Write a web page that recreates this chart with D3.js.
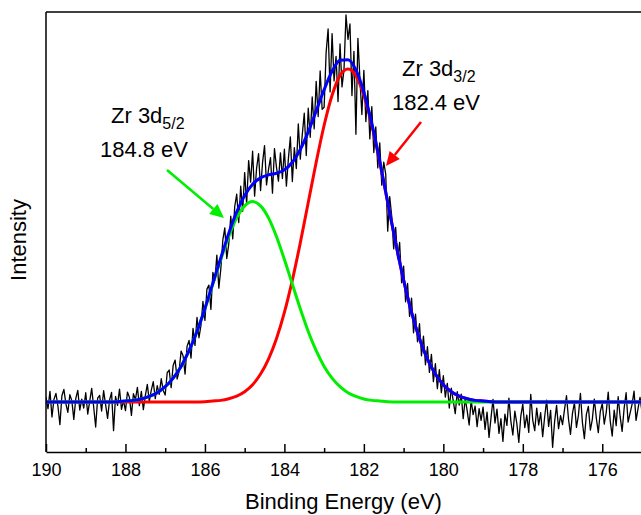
<!DOCTYPE html>
<html>
<head>
<meta charset="utf-8">
<script src="https://cdn.jsdelivr.net/npm/d3@7"></script>
<style>
  html, body { margin: 0; padding: 0; background: #fff; }
  svg { display: block; font-family: "Liberation Sans", Arial, sans-serif; }
</style>
</head>
<body>
<svg id="chart" width="641" height="515"></svg>
<script>
// ---------------- DATA ----------------
// Binding energy axis
const xStart = 190, xEnd = 175;
const majorTicks = [190, 188, 186, 184, 182, 180, 178, 176];
const minorTicks = [189, 187, 185, 183, 181, 179, 177, 175];

// Raw spectrum (intensity, a.u., baseline-subtracted), 190.00 -> 175.00 eV in 0.05 eV steps
const rawStep = 0.05;
const rawIntensity = [
  // 190.00 - 189.05
  1.5, -2.0, 3.2, -4.5, 0.8, 2.6, -1.2, -6.8, 1.9, 3.8, -0.5, -3.1, 2.2, 0.4, -5.2, 1.1, 3.5, -2.4, 0.9, -1.8,
  // 189.00 - 188.05
  2.8, -3.6, 0.3, 4.1, -1.5, -7.5, 1.2, 2.0, -2.7, 3.4, -0.8, -4.9, 0.6, 2.9, -8.6, 1.7, -1.0, 3.9, -2.2, 0.5,
  // 188.00 - 187.05
  -2.6, 3.0, 1.4, -4.0, 2.5, 0.7, 4.4, -1.1, 3.2, -2.3, 1.9, 5.3, 0.2, 3.6, 6.1, 1.0, 4.9, 2.3, 7.0, 3.5,
  // 187.00 - 186.05
  2.1, 8.8, 9.6, 4.3, 11.0, 12.6, 6.9, 9.2, 15.3, 13.9, 8.4, 16.7, 18.5, 13.2, 22.1, 17.0, 25.4, 19.3, 23.0, 30.2,
  // 186.00 - 185.05
  24.5, 33.9, 35.1, 27.8, 38.9, 36.5, 44.1, 34.2, 40.0, 48.6, 52.3, 43.1, 47.5, 55.8, 49.0, 58.7, 62.4, 53.9, 64.8, 57.3,
  // 185.00 - 184.05
  68.9, 59.4, 72.5, 66.0, 75.3, 61.8, 70.2, 74.6, 63.5, 71.9, 77.0, 65.2, 69.8, 73.4, 62.7, 76.1, 70.5, 66.3, 74.8, 67.1,
  // 184.00 - 183.05
  75.9, 64.8, 73.0, 79.6, 66.2, 76.4, 70.1, 83.5, 72.9, 80.3, 86.7, 74.0, 88.2, 79.5, 91.6, 82.0, 96.3, 85.7, 99.4, 87.9,
  // 183.00 - 182.05
  88.5, 104.9, 112.0, 93.1, 110.6, 96.4, 103.8, 90.2, 107.5, 94.6, 99.8, 116.2, 108.9, 113.5, 92.0, 105.3, 80.4, 109.2, 97.1, 86.3,
  // 182.00 - 181.05
  99.6, 84.2, 93.5, 79.0, 88.7, 74.9, 82.6, 70.3, 77.8, 65.1, 72.0, 68.4, 51.3, 61.7, 55.9, 46.0, 52.4, 43.1, 47.9, 35.8,
  // 181.00 - 180.05
  40.8, 30.1, 35.6, 25.7, 31.2, 20.8, 26.4, 18.1, 23.5, 13.9, 19.8, 11.2, 16.6, 8.9, 14.3, 6.1, 11.5, 4.0, 9.7, 2.8,
  // 180.00 - 179.05
  7.9, 1.5, 5.6, -1.8, 4.2, 0.3, -3.5, 3.1, -0.9, 2.4, -5.0, 1.0, -2.6, -6.9, 0.5, -3.8, -1.2, -7.4, -2.0, -5.5,
  // 179.00 - 178.05
  -1.5, -8.2, -3.0, -10.6, -4.7, 0.8, -6.3, -2.1, -9.4, -5.0, -11.8, -3.6, -7.0, 1.2, -5.8, -9.9, -2.7, -6.5, -12.1, -4.2,
  // 178.00 - 177.05
  -0.6, -7.7, -3.9, -9.1, 2.3, -5.4, -8.6, -1.8, -6.9, -3.2, -10.4, -4.5, 0.6, -7.3, -2.5, -13.6, -5.9, -1.0, -8.0, -4.1,
  // 177.00 - 176.05
  -6.8, -2.2, 1.9, -5.1, -9.7, -3.4, -0.2, -7.6, -4.0, 2.6, -6.1, -11.0, -3.7, -1.3, -8.4, -5.2, 0.9, -4.8, -9.2, -2.9,
  // 176.00 - 175.05
  -0.4, -6.6, -3.1, 3.0, -5.7, -10.2, -2.4, -7.1, 1.6, -4.4, -8.8, -1.9, 2.8, -6.0, -3.3, -0.7, 3.3, -5.5, -2.0, 1.4,
  // 175.00
  -3.0
];

// Fitted components, 190.0 -> 175.0 eV in 0.2 eV steps
const fitStep = 0.2;
const fitZr52 = [ // Zr 3d5/2, 184.8 eV (green)
  0, 0, 0, 0, 0, 0, 0, 0, 0, 0.1,
  0.3, 0.5, 0.9, 1.7, 2.8, 4.6, 7.2, 10.7, 15.4, 21.2,
  28.0, 35.4, 42.8, 49.7, 55.3, 58.9, 60.2, 58.9, 55.3, 49.7,
  42.8, 35.4, 28.0, 21.2, 15.4, 10.7, 7.2, 4.6, 2.8, 1.7,
  0.9, 0.5, 0.3, 0.1, 0, 0, 0, 0, 0, 0,
  0, 0, 0, 0, 0, 0, 0, 0, 0, 0,
  0, 0, 0, 0, 0, 0, 0, 0, 0, 0,
  0, 0, 0, 0, 0, 0
];
const fitZr32 = [ // Zr 3d3/2, 182.4 eV (red)
  0, 0, 0, 0, 0, 0, 0, 0, 0, 0,
  0, 0, 0, 0, 0, 0, 0, 0, 0, 0,
  0.1, 0.3, 0.5, 1.0, 1.8, 3.1, 5.2, 8.4, 12.9, 19.0,
  26.9, 36.6, 47.8, 59.9, 72.0, 83.1, 92.1, 98.0, 100.0, 98.0,
  92.1, 83.1, 72.0, 59.9, 47.8, 36.6, 26.9, 19.0, 12.9, 8.4,
  5.2, 3.1, 1.8, 1.0, 0.5, 0.3, 0.1, 0, 0, 0,
  0, 0, 0, 0, 0, 0, 0, 0, 0, 0,
  0, 0, 0, 0, 0, 0
];
const fitEnvelope = [ // cumulative fit (blue)
  0, 0, 0, 0, 0, 0, 0, 0, 0, 0.1,
  0.3, 0.5, 0.9, 1.7, 2.8, 4.6, 7.2, 10.7, 15.4, 21.2,
  28.1, 35.7, 43.3, 50.7, 57.1, 62.0, 65.4, 67.3, 68.2, 68.7,
  69.7, 72.0, 75.8, 81.1, 87.4, 93.8, 99.3, 102.6, 102.8, 99.7,
  93.0, 83.6, 72.3, 60.0, 47.8, 36.6, 26.9, 19.0, 12.9, 8.4,
  5.2, 3.1, 1.8, 1.0, 0.5, 0.3, 0.1, 0, 0, 0,
  0, 0, 0, 0, 0, 0, 0, 0, 0, 0,
  0, 0, 0, 0, 0, 0
];

// Annotations
const annotations = [
  { name: "Zr 3d", sub: "5/2", energy: "184.8 eV", color: "#00ee00" },
  { name: "Zr 3d", sub: "3/2", energy: "182.4 eV", color: "#ff0000" }
];

// ---------------- CHART ----------------
(function () {
const svg = d3.select("#chart");
const pL = 46, pT = 12, pB = 452, pR = 642;

const x = d3.scaleLinear().domain([xStart, xEnd]).range([pL, pR]);
const y = d3.scaleLinear().domain([-15, 117.1]).range([pB, pT]);

svg.append("defs").append("clipPath").attr("id", "clip")
  .append("rect").attr("x", pL).attr("y", pT).attr("width", pR - pL).attr("height", pB - pT);

const rawPts = rawIntensity.map((v, i) => [xStart - i * rawStep, v]);
const mk = arr => arr.map((v, i) => [xStart - i * fitStep, v]);

const g = svg.append("g").attr("clip-path", "url(#clip)");

const rawLine = d3.line().x(d => x(d[0])).y(d => y(d[1]));
const fitLine = d3.line().x(d => x(d[0])).y(d => y(d[1])).curve(d3.curveMonotoneX);

g.append("path").attr("d", rawLine(rawPts))
  .attr("fill", "none").attr("stroke", "#000").attr("stroke-width", 1.3).attr("stroke-linejoin", "round");

g.append("path").attr("d", fitLine(mk(fitZr32)))
  .attr("fill", "none").attr("stroke", "#ff0000").attr("stroke-width", 3);
g.append("path").attr("d", fitLine(mk(fitZr52)))
  .attr("fill", "none").attr("stroke", "#00ee00").attr("stroke-width", 3);
g.append("path").attr("d", fitLine(mk(fitEnvelope)))
  .attr("fill", "none").attr("stroke", "#0000ff").attr("stroke-width", 3);

// Frame: top and left lines
svg.append("line").attr("x1", pL).attr("x2", pR + 5).attr("y1", pT).attr("y2", pT)
  .attr("stroke", "#000").attr("stroke-width", 1.5);
svg.append("line").attr("x1", pL).attr("x2", pL).attr("y1", pT).attr("y2", pB)
  .attr("stroke", "#000").attr("stroke-width", 1.5);

// Bottom axis with inward ticks
const axisG = svg.append("g").attr("transform", `translate(0,${pB})`);
axisG.call(d3.axisBottom(x).tickValues(majorTicks).tickSizeInner(-8).tickSizeOuter(0).tickPadding(11).tickFormat(d3.format("d")));
axisG.select(".domain").attr("stroke-width", 1.5);
axisG.selectAll(".tick line").attr("stroke-width", 1.5);
axisG.selectAll("text").attr("font-size", 18).attr("fill", "#000")
  .attr("font-family", "'Liberation Sans', Arial, sans-serif");

const minorG = svg.append("g").attr("transform", `translate(0,${pB})`);
minorG.call(d3.axisBottom(x).tickValues(minorTicks).tickSizeInner(-4).tickSizeOuter(0).tickFormat(""));
minorG.select(".domain").remove();
minorG.selectAll(".tick line").attr("stroke-width", 1.5);

// Axis titles
svg.append("text").attr("x", (pL + 641) / 2).attr("y", 509)
  .attr("text-anchor", "middle").attr("font-size", 22).text("Binding Energy (eV)");
svg.append("text").attr("transform", `translate(26,${(pT + pB) / 2 + 8}) rotate(-90)`)
  .attr("text-anchor", "middle").attr("font-size", 22).text("Intensity");

// Annotations
function label(a, x0, yb1, xc2, yb2) {
  const t = svg.append("text").attr("x", x0).attr("y", yb1).attr("font-size", 22);
  t.append("tspan").text(a.name);
  t.append("tspan").attr("dy", 6).attr("font-size", 16).text(a.sub);
  svg.append("text").attr("x", xc2).attr("y", yb2).attr("text-anchor", "middle")
    .attr("font-size", 22).text(a.energy);
}
label(annotations[0], 111, 123, 144, 157);
label(annotations[1], 402, 76, 436, 110);

function arrow(x1, y1, x2, y2, color) {
  const ang = Math.atan2(y2 - y1, x2 - x1);
  const L = 14, W = 6.5;
  const bx = x2 - L * Math.cos(ang), by = y2 - L * Math.sin(ang);
  svg.append("line").attr("x1", x1).attr("y1", y1).attr("x2", bx).attr("y2", by)
    .attr("stroke", color).attr("stroke-width", 2.5);
  const p = [[x2, y2],
    [bx + W * Math.sin(ang), by - W * Math.cos(ang)],
    [bx - W * Math.sin(ang), by + W * Math.cos(ang)]];
  svg.append("polygon").attr("points", p.map(d => d.join(",")).join(" ")).attr("fill", color);
}
arrow(167, 170, 224, 218, annotations[0].color);
arrow(421, 122, 386, 166, annotations[1].color);
})();
</script>
</body>
</html>
